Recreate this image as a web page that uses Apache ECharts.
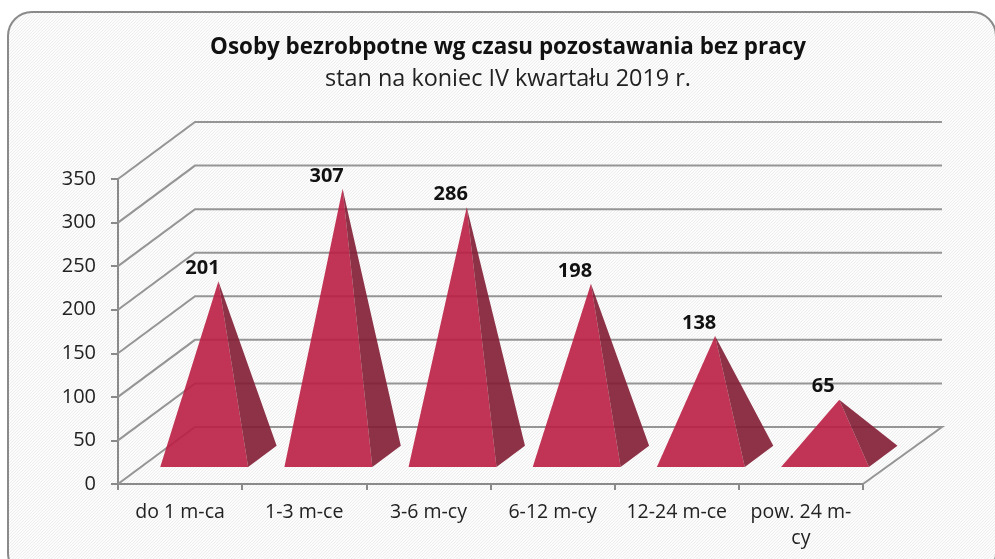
<!DOCTYPE html>
<html>
<head>
<meta charset="utf-8">
<style>html,body{margin:0;padding:0;background:#fff}#c{width:995px;height:559px}</style>
<script src="https://cdn.jsdelivr.net/npm/echarts@6/dist/echarts.min.js"></script>
</head>
<body>
<div id="c"></div>
<script>
var categories = ['do 1 m-ca', '1-3 m-ce', '3-6 m-cy', '6-12 m-cy', '12-24 m-ce', 'pow. 24 m-\ncy'];
var values = [201, 307, 286, 198, 138, 65];
var yTicks = [0, 50, 100, 150, 200, 250, 300, 350];
var titleText = 'Osoby bezrobpotne wg czasu pozostawania bez pracy';
var subtitleText = 'stan na koniec IV kwartału 2019 r.';

var DX = 77, DY = -57;
var FONT = '"Open Sans", "Noto Sans", sans-serif';

var tile = document.createElement('canvas');
tile.width = 3; tile.height = 3;
var t = tile.getContext('2d');
t.fillStyle = '#fcfcfc'; t.fillRect(0, 0, 3, 3);
t.fillStyle = '#eeeeee'; t.fillRect(0, 0, 1, 1); t.fillRect(1, 2, 1, 1); t.fillRect(2, 1, 1, 1);

var chart = echarts.init(document.getElementById('c'), null, {renderer: 'canvas'});
chart.setOption({
  animation: false,
  backgroundColor: '#ffffff',
  graphic: [{
    type: 'rect', z: -1, silent: true,
    shape: {x: 8, y: 12, width: 988, height: 565, r: 24},
    style: {fill: {image: tile, repeat: 'repeat'}, stroke: '#8a8a8a', lineWidth: 2}
  }],
  title: [
    {text: titleText, left: 503, top: 32, textAlign: 'center',
     textStyle: {fontFamily: FONT, fontSize: 22.4, fontWeight: 'bold', color: '#111'}},
    {text: subtitleText, left: 503, top: 63, textAlign: 'center',
     textStyle: {fontFamily: FONT, fontSize: 23.4, fontWeight: 'normal', color: '#222'}}
  ],
  grid: {left: 118, right: 132, top: 179, bottom: 75},
  xAxis: {
    type: 'category', data: categories, boundaryGap: true,
    axisLine: {lineStyle: {color: '#8a8a8a', width: 2}},
    axisTick: {show: true, alignWithLabel: false, length: 6, lineStyle: {color: '#8a8a8a', width: 2}},
    axisLabel: {fontFamily: FONT, fontSize: 19.5, color: '#222', margin: 15, lineHeight: 26, interval: 0},
    splitLine: {show: false}
  },
  yAxis: {
    type: 'value', min: 0, max: 350, interval: 50,
    axisLine: {show: true, lineStyle: {color: '#8a8a8a', width: 2}},
    axisTick: {show: true, length: 7, lineStyle: {color: '#8a8a8a', width: 2}},
    axisLabel: {fontFamily: FONT, fontSize: 20, color: '#222', margin: 22},
    splitLine: {show: false}
  },
  series: [
    {
      type: 'custom', coordinateSystem: 'cartesian2d', silent: true, clip: false, z: 1,
      data: yTicks.map(function (v) { return [0, v]; }),
      renderItem: function (params, api) {
        var v = api.value(1);
        var g = params.coordSys;
        var y = api.coord([0, v])[1];
        var l = g.x, r = g.x + g.width;
        var pts = [[l, y], [l + DX, y + DY], [r + DX + 2, y + DY]];
        if (v === 0) pts.push([r, y]);
        return {type: 'polyline', silent: true, shape: {points: pts},
                style: {fill: 'none', stroke: '#959595', lineWidth: 2}};
      }
    },
    {
      type: 'custom', coordinateSystem: 'cartesian2d', silent: true, clip: false, z: 3,
      data: values.map(function (v, i) { return [i, v]; }),
      renderItem: function (params, api) {
        var i = api.value(0), v = api.value(1);
        var base = api.coord([i, 0]);
        var top = api.coord([i, v]);
        var band = api.size([1, 0])[0];
        var hw = band * 0.354;
        var f = 0.30, b = 0.67, c = (f + b) / 2;
        var shift = 1;
        var cx = base[0] + shift + DX * c;
        var x0 = base[0] + shift - hw + DX * f, y0 = base[1] + DY * f;
        var x1 = base[0] + shift + hw + DX * f, y1 = y0;
        var x2 = x1 + DX * (b - f), y2 = base[1] + DY * b;
        var ax = cx, ay = base[1] + DY * c - (base[1] - top[1]);
        return {
          type: 'group',
          children: [
            {type: 'polygon', silent: true, shape: {points: [[x0, y0], [x1, y1], [ax, ay]]},
             style: {fill: 'rgba(186,30,66,0.9)'}},
            {type: 'polygon', silent: true, shape: {points: [[x1, y1], [x2, y2], [ax, ay]]},
             style: {fill: 'rgba(130,28,52,0.9)'}},
            {type: 'text', silent: true, x: ax - 16, y: ay - 13,
             style: {text: String(v), fontFamily: FONT, fontSize: 20, fontWeight: 'bold', fill: '#111',
                     align: 'center', verticalAlign: 'middle'}}
          ]
        };
      }
    }
  ]
});
</script>
</body>
</html>
